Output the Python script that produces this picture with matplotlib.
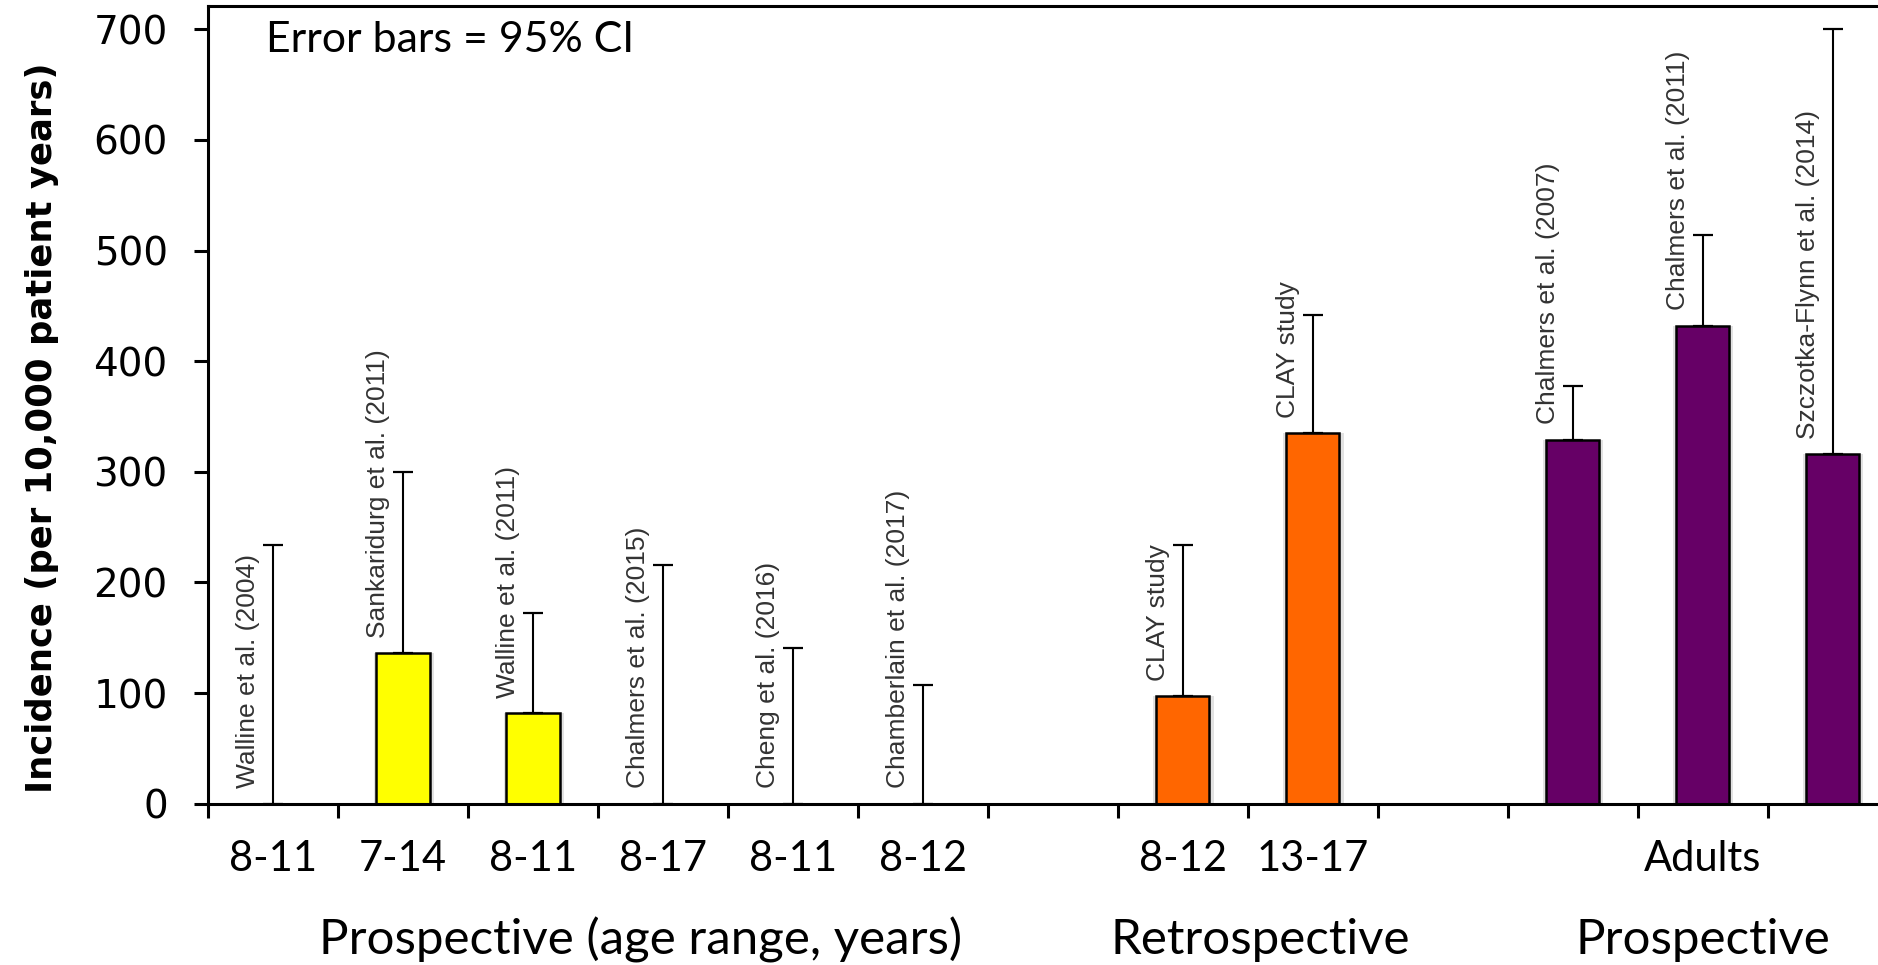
import numpy as np
import matplotlib.pyplot as plt
import matplotlib.patheffects as pe
from matplotlib.transforms import blended_transform_factory

# one slot per study, empty slots separate the groups
studies = ['Walline et al. (2004)', 'Sankaridurg et al. (2011)', 'Walline et al. (2011)',
           'Chalmers et al. (2015)', 'Cheng et al. (2016)', 'Chamberlain et al. (2017)', '',
           'CLAY study', 'CLAY study', '',
           'Chalmers et al. (2007)', 'Chalmers et al. (2011)', 'Szczotka-Flynn et al. (2014)']
incidence = [0, 136, 82, 0, 0, 0, None, 97, 335, None, 329, 432, 316]
ci_upper = [234, 300, 172, 216, 141, 107, None, 234, 442, None, 378, 514, 700]
bar_colors = ['#FFFF00'] * 6 + ['none'] + ['#FF6600'] * 2 + ['none'] + ['#660066'] * 3
age_labels = ['8-11', '7-14', '8-11', '8-17', '8-11', '8-12', '', '8-12', '13-17', '', '', 'Adults', '']
groups = ['Prospective (age range, years)', 'Retrospective', 'Prospective']
group_pos = [2.83, 7.6, 11]

fig = plt.figure(figsize=(18.78, 9.65), dpi=100)
ax = fig.add_axes([0.1108, 0.1671, 0.8892, 0.8267])

shadow = [pe.SimplePatchShadow(offset=(-2, 0), shadow_rgbFace='#d0d0d0', alpha=0.6),
          pe.SimplePatchShadow(offset=(3, 0), shadow_rgbFace='#d0d0d0', alpha=0.6),
          pe.Normal()]

for i in range(len(studies)):
    v = incidence[i]
    if v is None:
        continue
    if v > 0:
        ax.bar(i, v, width=0.41, color=bar_colors[i], edgecolor='black', linewidth=1.8,
               zorder=2, path_effects=shadow)
    ax.errorbar(i, v, yerr=[[0], [ci_upper[i] - v]], fmt='none', ecolor='black',
                elinewidth=1.5, capsize=7, capthick=1.6, zorder=3)
    ax.text(i - 0.19, v + 14, studies[i], rotation=90, ha='center', va='bottom',
            fontsize=19, color='#333333', family='Liberation Sans')

ax.spines['right'].set_visible(False)
for s in ['left', 'bottom', 'top']:
    ax.spines[s].set_linewidth(2.2)

ax.set_yticks(range(0, 701, 100))
ax.set_yticklabels([str(v) for v in range(0, 701, 100)], fontsize=28, family='DejaVu Sans')
ax.tick_params(axis='y', length=10, width=2.2, pad=19)

ax.set_xticks(np.arange(-0.5, 13, 1))
ax.set_xticklabels([])
ax.tick_params(axis='x', which='major', length=10, width=2.2)
ax.set_xticks(range(len(age_labels)), minor=True)
ax.set_xticklabels(age_labels, minor=True, fontsize=30, family='Lato')
ax.tick_params(axis='x', which='minor', length=0, pad=26)

ax.set_xlim(-0.5, 12.35)
ax.set_ylim(0, 721)

# group labels: data x, figure y
trans = blended_transform_factory(ax.transData, fig.transFigure)
for g, x in zip(groups, group_pos):
    ax.text(x, 0.026, g, transform=trans, ha='center', va='center', fontsize=35.5, family='Lato')

fig.text(0.0224, 1 - 428 / 965, 'Incidence (per 10,000 patient years)', rotation=90,
         ha='center', va='center', fontsize=25.5, fontweight='bold', family='DejaVu Sans')
fig.text(266 / 1878, 1 - 40 / 965, 'Error bars = 95% CI', ha='left', va='center',
         fontsize=30.8, family='Lato')

fig.savefig('out.png', dpi=100)
